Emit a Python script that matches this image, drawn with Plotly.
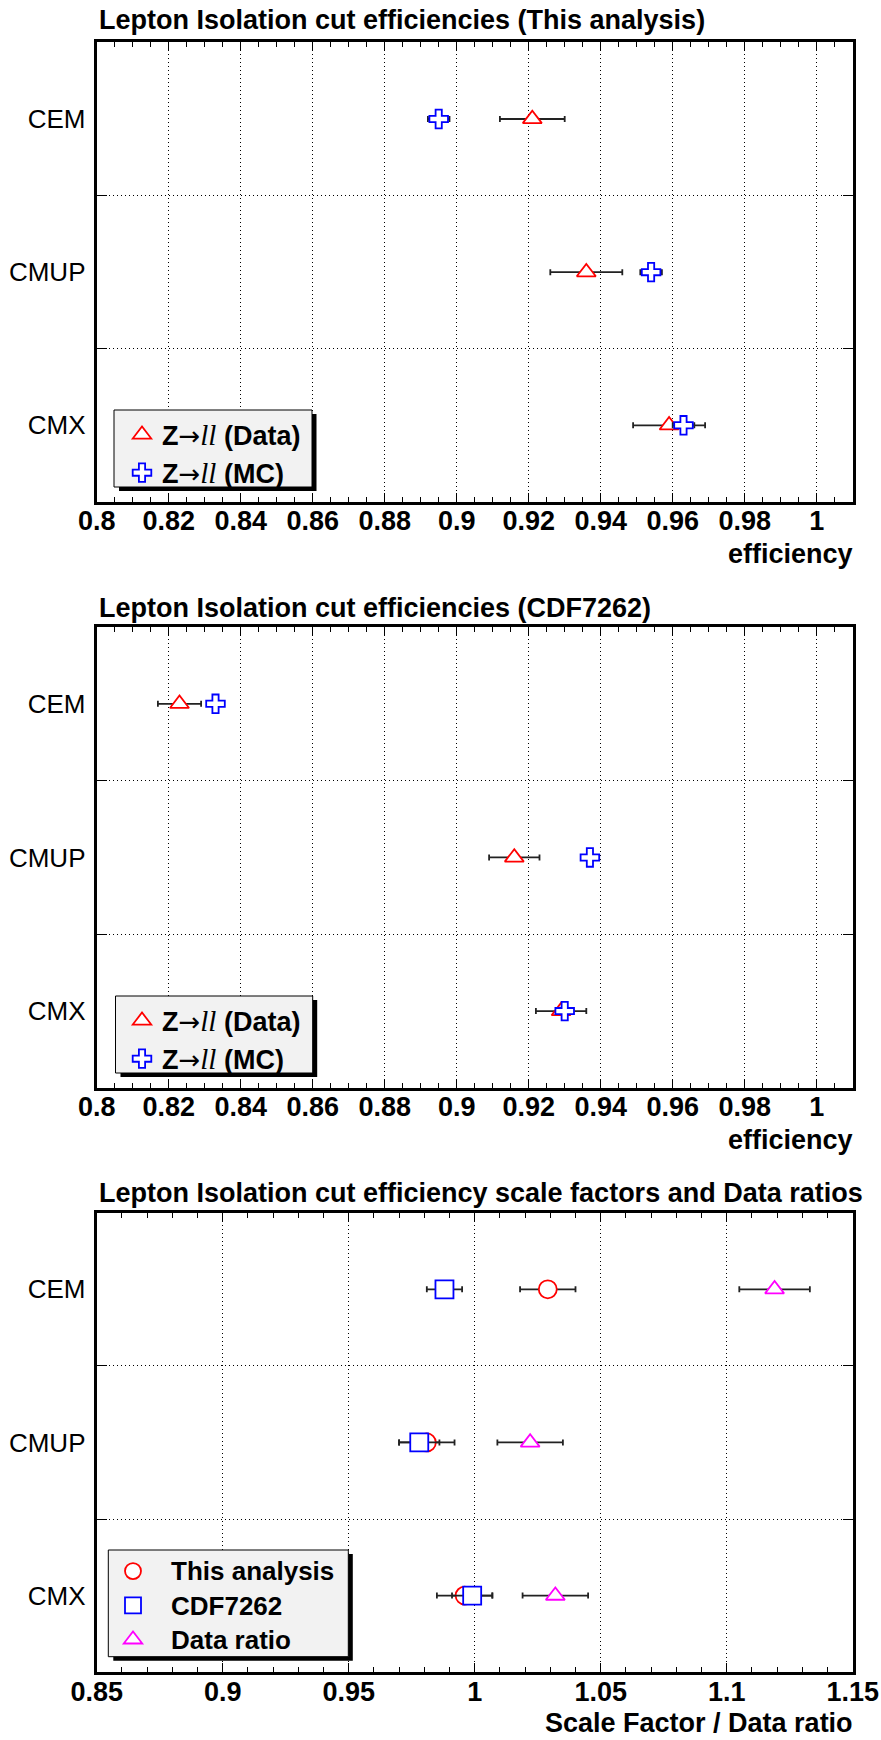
import plotly.graph_objects as go

W, H = 881, 1740

categories = ["CEM", "CMUP", "CMX"]

# Isolation efficiencies, this analysis
this_data_eff = [0.921, 0.936, 0.959]
this_data_err = [0.009, 0.010, 0.010]
this_mc_eff = [0.895, 0.954, 0.963]
this_mc_err = [0.003, 0.003, 0.003]

# Isolation efficiencies, CDF7262
cdf_data_eff = [0.823, 0.916, 0.929]
cdf_data_err = [0.006, 0.007, 0.007]
cdf_mc_eff = [0.833, 0.937, 0.930]
cdf_mc_err = [0.002, 0.002, 0.002]

# Scale factors and data ratios
sf_this = [1.029, 0.981, 0.996]
sf_this_err = [0.011, 0.011, 0.011]
sf_cdf = [0.988, 0.978, 0.999]
sf_cdf_err = [0.007, 0.008, 0.008]
data_ratio = [1.119, 1.022, 1.032]
data_ratio_err = [0.014, 0.013, 0.013]

# category rows: first category on top
ypos = [len(categories) - i - 0.5 for i in range(len(categories))]


def fx(px):
    return px / W


def fy(py):
    return 1 - py / H


FONT = "Liberation Sans"
DOT = "1px,3px"
X_DOMAIN = [fx(96.7), fx(852.7)]
PANELS = [(42.4, 501.9), (627.0, 1087.9), (1212.7, 1672.2)]

fig = go.Figure()


def add_points(vals, errs, ax, name, symbol, size, color, legend):
    fig.add_trace(go.Scatter(
        x=vals, y=ypos, mode="markers", name=name,
        xaxis="x" + ax, yaxis="y" + ax, legend=legend, legendgroup=name,
        marker=dict(symbol=symbol, size=size, color="white",
                    line=dict(color=color, width=1.8)),
        error_x=dict(type="data", array=errs, color="#222222",
                     thickness=1.8, width=3),
        hoverinfo="x+y",
    ))


ARROW = ("<span style='font-family:DejaVu Sans;font-weight:normal;"
         "font-size:26px'>\u2192</span>")
LL = ("<span style='font-family:Liberation Serif;font-style:italic;"
      "font-weight:normal;font-size:29px'>ll</span>")
data_name = "<b>Z" + ARROW + LL + " (Data)</b>"
mc_name = "<b>Z" + ARROW + LL + " (MC)</b>"

add_points(this_data_eff, this_data_err, "", data_name, "triangle-up", 16.5, "red", "legend")
add_points(this_mc_eff, this_mc_err, "", mc_name, "cross", 15.5, "blue", "legend")
add_points(cdf_data_eff, cdf_data_err, "2", data_name, "triangle-up", 16.5, "red", "legend2")
add_points(cdf_mc_eff, cdf_mc_err, "2", mc_name, "cross", 15.5, "blue", "legend2")

big = "<span style='font-size:26px'><b>{}</b></span>"
add_points(sf_this, sf_this_err, "3", big.format("This analysis"), "circle", 18, "red", "legend3")
add_points(sf_cdf, sf_cdf_err, "3", big.format("CDF7262"), "square", 18, "blue", "legend3")
add_points(data_ratio, data_ratio_err, "3", big.format("Data ratio"), "triangle-up", 16.5, "#ff00ff", "legend3")


def xaxis_cfg(anchor, rng, dtick, minor_dtick):
    return dict(
        domain=X_DOMAIN, anchor=anchor, range=rng, tick0=rng[0], dtick=dtick,
        showgrid=True, gridcolor="black", griddash=DOT, gridwidth=1,
        zeroline=False, showline=True, linecolor="black", linewidth=3,
        mirror="ticks", ticks="inside", ticklen=9, tickwidth=1, tickcolor="black",
        tickfont=dict(family=FONT, size=27, color="black", weight="bold"),
        ticklabelstandoff=-7,
        minor=dict(dtick=minor_dtick, ticks="inside", ticklen=5,
                   tickcolor="black", tickwidth=1, showgrid=False),
    )


def yaxis_cfg(anchor, top, bottom):
    return dict(
        domain=[fy(bottom), fy(top)], anchor=anchor, range=[0, len(categories)],
        tickmode="array", tickvals=ypos, ticktext=categories, ticks="",
        showgrid=False, zeroline=False, showline=True, linecolor="black",
        linewidth=3, mirror="ticks",
        tickfont=dict(family=FONT, size=26, color="black"),
        ticklabelstandoff=3,
        minor=dict(tickvals=[1, 2], ticks="inside", ticklen=10, tickcolor="black",
                   tickwidth=1, showgrid=True, gridcolor="black", griddash=DOT,
                   gridwidth=1),
    )


layout = dict(
    width=W, height=H, margin=dict(l=0, r=0, t=0, b=0, autoexpand=False),
    paper_bgcolor="white", plot_bgcolor="white", showlegend=True,
    xaxis=xaxis_cfg("y", [0.8, 1.01], 0.02, 0.005),
    xaxis2=xaxis_cfg("y2", [0.8, 1.01], 0.02, 0.005),
    xaxis3=xaxis_cfg("y3", [0.85, 1.15], 0.05, 0.01),
    yaxis=yaxis_cfg("x", *PANELS[0]),
    yaxis2=yaxis_cfg("x2", *PANELS[1]),
    yaxis3=yaxis_cfg("x3", *PANELS[2]),
)

legend_common = dict(xanchor="left", yanchor="top", bgcolor="rgba(0,0,0,0)",
                     borderwidth=0, font=dict(family=FONT, size=27, color="black"))
layout["legend"] = dict(x=fx(122), y=fy(410.5), itemwidth=30, tracegroupgap=0, **legend_common)
layout["legend2"] = dict(x=fx(122), y=fy(996.5), itemwidth=30, tracegroupgap=0, **legend_common)
legend3 = dict(legend_common, font=dict(family=FONT, size=24, color="black"))
layout["legend3"] = dict(x=fx(95), y=fy(1549), itemwidth=66, tracegroupgap=0, **legend3)
fig.update_layout(**layout)

# legend frames with drop shadow
shapes = []
for (x0, y0, x1, y1) in [(114, 410, 312, 487), (115.5, 996, 312.7, 1073),
                         (108.3, 1550, 348.3, 1656.7)]:
    shapes.append(dict(type="rect", xref="paper", yref="paper", layer="above",
                       x0=fx(x0 + 5), x1=fx(x1 + 4.5), y0=fy(y1 + 4), y1=fy(y0 + 4),
                       fillcolor="black", line=dict(width=0)))
    shapes.append(dict(type="rect", xref="paper", yref="paper", layer="above",
                       x0=fx(x0), x1=fx(x1), y0=fy(y1), y1=fy(y0),
                       fillcolor="#f2f2f2", line=dict(color="black", width=1)))
fig.update_layout(shapes=shapes)

titles = [
    ("Lepton Isolation cut efficiencies (This analysis)", 20.5),
    ("Lepton Isolation cut efficiencies (CDF7262)", 607.5),
    ("Lepton Isolation cut efficiency scale factors and Data ratios", 1193),
]
for text, yc in titles:
    fig.add_annotation(text="<b>" + text + "</b>", xref="paper", yref="paper",
                       x=fx(97), y=fy(yc), xanchor="left", yanchor="middle",
                       showarrow=False, font=dict(family=FONT, size=27, color="black"))

axis_titles = [("efficiency", 554.5), ("efficiency", 1140), ("Scale Factor / Data ratio", 1723)]
for text, yc in axis_titles:
    fig.add_annotation(text="<b>" + text + "</b>", xref="paper", yref="paper",
                       x=fx(855), y=fy(yc), xanchor="right", yanchor="middle",
                       showarrow=False, font=dict(family=FONT, size=27, color="black"))

fig.write_html("out.html")
